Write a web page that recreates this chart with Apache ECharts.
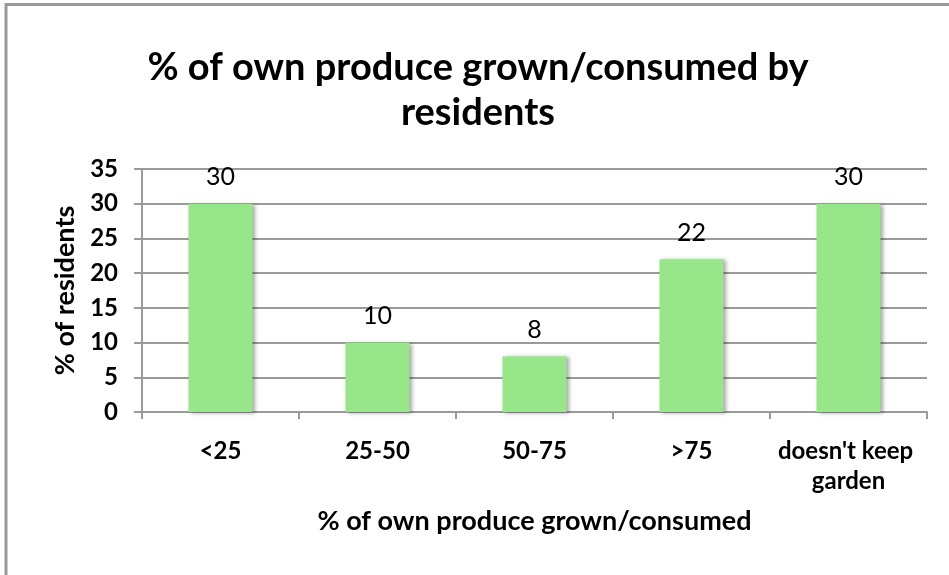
<!DOCTYPE html>
<html>
<head>
<meta charset="utf-8">
<script src="https://cdn.jsdelivr.net/npm/echarts@6/dist/echarts.min.js"></script>
<style>
  html, body { margin: 0; padding: 0; background: #ffffff; }
  #chart { width: 949px; height: 575px; }
</style>
</head>
<body>
<div id="chart"></div>
<script>
// Share of residents by how much of their own produce they grow and eat
const categories = ['<25', '25-50', '50-75', '>75', "doesn't keep garden"];
const residentsPct = [30, 10, 8, 22, 30];
const yTicks = [0, 5, 10, 15, 20, 25, 30, 35];

const FONT = 'Lato, "Open Sans", sans-serif';
const chart = echarts.init(document.getElementById('chart'), null, { renderer: 'canvas' });

chart.setOption({
  backgroundColor: '#ffffff',
  animation: false,
  graphic: [{
    type: 'rect',
    shape: { x: 6, y: 4.5, width: 980, height: 620 },
    style: { fill: 'none', stroke: '#9a9a9a', lineWidth: 3 },
    silent: true
  }],
  title: {
    text: '% of own produce grown/consumed by\nresidents',
    left: 473,
    top: 40,
    textAlign: 'center',
    textStyle: {
      fontFamily: FONT,
      fontWeight: 'bold',
      fontSize: 38,
      lineHeight: 45,
      color: '#000000'
    }
  },
  grid: { left: 142, right: 22, top: 169, bottom: 163 },
  xAxis: {
    type: 'category',
    data: categories,
    name: '% of own produce grown/consumed',
    nameLocation: 'middle',
    nameGap: 96,
    nameTextStyle: { fontFamily: FONT, fontWeight: 'bold', fontSize: 27, color: '#000' },
    axisLine: { lineStyle: { color: '#9a9a9a', width: 2 } },
    axisTick: { show: true, length: 7, alignWithLabel: false, lineStyle: { color: '#9a9a9a', width: 2 } },
    axisLabel: {
      interval: 0,
      margin: 24,
      width: 155,
      overflow: 'break',
      lineHeight: 30,
      fontFamily: FONT,
      fontWeight: 'bold',
      fontSize: 24,
      color: '#000'
    }
  },
  yAxis: {
    type: 'value',
    min: yTicks[0],
    max: yTicks[yTicks.length - 1],
    interval: yTicks[1] - yTicks[0],
    name: '% of residents',
    nameLocation: 'middle',
    nameGap: 62,
    nameRotate: 90,
    nameTextStyle: { fontFamily: FONT, fontWeight: 'bold', fontSize: 27, color: '#000' },
    axisLine: { show: true, lineStyle: { color: '#9a9a9a', width: 2 } },
    axisTick: { show: true, length: 8, lineStyle: { color: '#9a9a9a', width: 2 } },
    axisLabel: { margin: 24, fontFamily: FONT, fontWeight: 'bold', fontSize: 24, color: '#000' },
    splitLine: { show: true, lineStyle: { color: '#9a9a9a', width: 2 } }
  },
  series: [{
    type: 'bar',
    data: residentsPct,
    barWidth: 64,
    itemStyle: {
      color: '#97e68a',
      shadowColor: 'rgba(0,0,0,0.35)',
      shadowBlur: 4,
      shadowOffsetX: 2,
      shadowOffsetY: 1
    },
    label: {
      show: true,
      position: 'top',
      distance: 14,
      fontFamily: FONT,
      fontSize: 25,
      color: '#000'
    }
  }]
});
</script>
</body>
</html>
